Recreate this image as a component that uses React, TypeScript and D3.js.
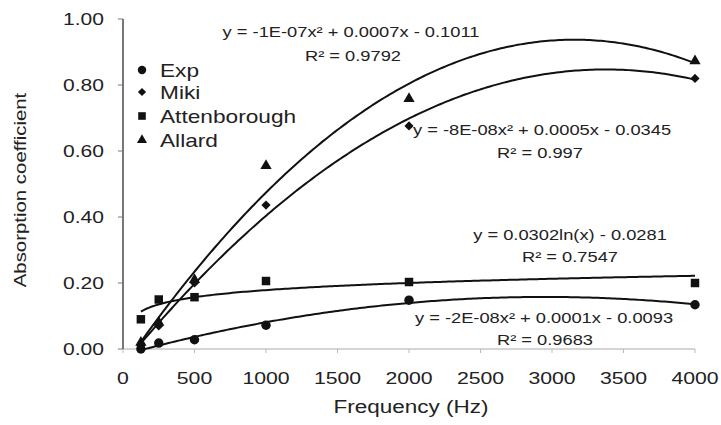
import React from 'react';
import * as d3 from 'd3';

const freqs = [125, 250, 500, 1000, 2000, 4000];
const expValues = [0.0, 0.018, 0.028, 0.072, 0.148, 0.134];
const mikiValues = [0.01, 0.07, 0.2, 0.436, 0.676, 0.82];
const attenValues = [0.09, 0.15, 0.157, 0.206, 0.203, 0.2];
const allardValues = [0.02, 0.08, 0.21, 0.555, 0.758, 0.873];
const seriesNames = ['Exp', 'Miki', 'Attenborough', 'Allard'];
const xTicks = [0, 500, 1000, 1500, 2000, 2500, 3000, 3500, 4000];
const yTicks = [0, 0.2, 0.4, 0.6, 0.8, 1.0];
const eqAllard = ['y = -1E-07x² + 0.0007x - 0.1011', 'R² = 0.9792'];
const eqMiki = ['y = -8E-08x² + 0.0005x - 0.0345', 'R² = 0.997'];
const eqAtten = ['y = 0.0302ln(x) - 0.0281', 'R² = 0.7547'];
const eqExp = ['y = -2E-08x² + 0.0001x - 0.0093', 'R² = 0.9683'];

function polyFit(xs: number[], ys: number[]) {
  const s = xs.map((x) => x / 1000);
  const S = [0, 0, 0, 0, 0];
  const T = [0, 0, 0];
  s.forEach((x, i) => {
    for (let k = 0; k < 5; k++) S[k] += Math.pow(x, k);
    for (let k = 0; k < 3; k++) T[k] += Math.pow(x, k) * ys[i];
  });
  const A = [
    [S[0], S[1], S[2], T[0]],
    [S[1], S[2], S[3], T[1]],
    [S[2], S[3], S[4], T[2]],
  ];
  for (let i = 0; i < 3; i++) {
    for (let j = i + 1; j < 3; j++) {
      const f = A[j][i] / A[i][i];
      for (let k = i; k < 4; k++) A[j][k] -= f * A[i][k];
    }
  }
  const c = [0, 0, 0];
  for (let i = 2; i >= 0; i--) {
    let v = A[i][3];
    for (let k = i + 1; k < 3; k++) v -= A[i][k] * c[k];
    c[i] = v / A[i][i];
  }
  return (x: number) => {
    const t = x / 1000;
    return c[0] + c[1] * t + c[2] * t * t;
  };
}

function logFit(xs: number[], ys: number[]) {
  const lx = xs.map((x) => Math.log(x));
  const mx = d3.mean(lx) as number;
  const my = d3.mean(ys) as number;
  let sxy = 0, sxx = 0;
  lx.forEach((v, i) => {
    sxy += (v - mx) * (ys[i] - my);
    sxx += (v - mx) * (v - mx);
  });
  const b = sxy / sxx;
  const a = my - b * mx;
  return (x: number) => a + b * Math.log(x);
}

const SX = 1.24;
const FONT = "'Liberation Sans', Arial, Helvetica, sans-serif";
const TXT = '#222';

function T(props: { x: number; y: number; anchor?: string; size: number; sx?: number; rotate?: number; children: React.ReactNode }) {
  const { x, y, anchor = 'start', size, sx = SX, rotate = 0, children } = props;
  return (
    <text
      transform={`translate(${x},${y}) rotate(${rotate}) scale(${sx},1)`}
      textAnchor={anchor}
      fontSize={size}
      fontFamily={FONT}
      fill={TXT}
    >
      {children}
    </text>
  );
}

export default function App() {
  const W = 721, H = 425;
  const x = d3.scaleLinear().domain([0, 4000]).range([123, 695]);
  const y = d3.scaleLinear().domain([0, 1]).range([349, 19]);

  const fits = [
    polyFit(freqs, expValues),
    polyFit(freqs, mikiValues),
    logFit(freqs, attenValues),
    polyFit(freqs, allardValues),
  ];
  const samples = d3.range(0, 201).map((i) => 125 + (i * (4000 - 125)) / 200);

  const symbols = [d3.symbolCircle, d3.symbolSquare, d3.symbolSquare, d3.symbolTriangle];
  const sizes = [70, 42, 72, 55];
  const rot = [0, 45, 0, 0];
  const data = [expValues, mikiValues, attenValues, allardValues];
  const sym = (i: number, k = 1) => d3.symbol().type(symbols[i]).size(sizes[i] * k)() as string;

  const legendY = [70, 92, 116, 140];

  return (
    <svg width={W} height={H} style={{ position: 'absolute', left: 0, top: 0, background: '#fff' }}>
      <rect x={0} y={0} width={W} height={H} fill="#fff" />
      <line x1={x(0)} x2={x(4000)} y1={y(0)} y2={y(0)} stroke="#aaa" strokeWidth={1} />
      {xTicks.map((t) => (
        <g key={t}>
          <line x1={x(t)} x2={x(t)} y1={y(0)} y2={y(0) + 4} stroke="#bbb" strokeWidth={1} />
          <T x={x(t)} y={384} anchor="middle" size={17} sx={1.25}>{String(t)}</T>
        </g>
      ))}
      <line x1={x(0)} x2={x(0)} y1={y(1)} y2={y(0)} stroke="#555" strokeWidth={1.6} />
      {yTicks.map((t) => (
        <g key={t}>
          <line x1={x(0) - 5} x2={x(0)} y1={y(t)} y2={y(t)} stroke="#777" strokeWidth={1} />
          <T x={104} y={y(t) + 6} anchor="end" size={17}>{t.toFixed(2)}</T>
        </g>
      ))}
      <T x={26} y={190} anchor="middle" size={17} sx={1.2} rotate={-90}>Absorption coefficient</T>
      <T x={411} y={413} anchor="middle" size={18} sx={1.25}>Frequency (Hz)</T>

      {fits.map((f, i) => (
        <path
          key={i}
          d={d3.line<number>().x((d) => x(d)).y((d) => y(f(d)))(samples) as string}
          fill="none"
          stroke="#111"
          strokeWidth={2}
        />
      ))}

      {data.map((vals, si) =>
        vals.map((v, i) => (
          <path key={`${si}-${i}`} d={sym(si)} transform={`translate(${x(freqs[i])},${y(v)}) rotate(${rot[si]})`} fill="#111" />
        ))
      )}

      {seriesNames.map((n, i) => (
        <g key={n}>
          <path d={sym(i, 0.8)} transform={`translate(142,${legendY[i]}) rotate(${rot[i]})`} fill="#111" />
          <T x={160} y={legendY[i] + 7} size={18} sx={1.26}>{n}</T>
        </g>
      ))}

      <T x={351} y={37} anchor="middle" size={15} sx={1.22}>{eqAllard[0]}</T>
      <T x={353} y={61} anchor="middle" size={15} sx={1.22}>{eqAllard[1]}</T>
      <T x={542} y={135} anchor="middle" size={15} sx={1.22}>{eqMiki[0]}</T>
      <T x={540} y={158} anchor="middle" size={15} sx={1.22}>{eqMiki[1]}</T>
      <T x={570} y={240} anchor="middle" size={15} sx={1.22}>{eqAtten[0]}</T>
      <T x={570} y={262} anchor="middle" size={15} sx={1.22}>{eqAtten[1]}</T>
      <T x={544} y={323} anchor="middle" size={15} sx={1.22}>{eqExp[0]}</T>
      <T x={545} y={345} anchor="middle" size={15} sx={1.22}>{eqExp[1]}</T>
    </svg>
  );
}
